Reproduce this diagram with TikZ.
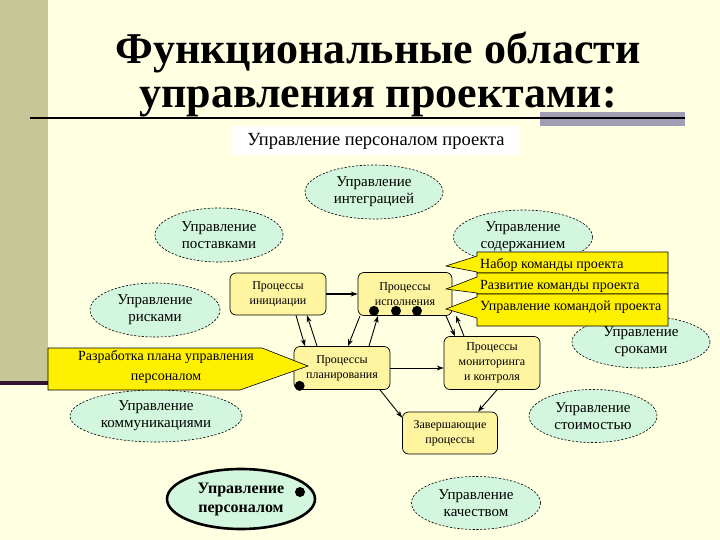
\documentclass[tikz,border=0pt]{standalone}
\usepackage{fontspec}
\setmainfont{Liberation Serif}
\usetikzlibrary{shapes.geometric,arrows.meta,calc}
\definecolor{bg}{RGB}{255,255,226}
\definecolor{olivebar}{RGB}{198,198,150}
\definecolor{darkp}{RGB}{50,20,50}
\definecolor{graybar}{RGB}{160,158,180}
\definecolor{mint}{RGB}{210,246,222}
\definecolor{procfill}{RGB}{255,244,160}
\definecolor{callfill}{RGB}{255,240,0}
\pgfdeclarelayer{lines}
\pgfsetlayers{lines,main}
\begin{document}
\begin{tikzpicture}[x=1pt,y=-1pt,
  ell/.style={ellipse, draw, dash pattern=on 2.2pt off 1.6pt, fill=mint, line width=0.6pt,
    inner sep=0pt, align=center, font=\fontsize{15}{17}\selectfont},
  proc/.style={draw, rounded corners=6pt, fill=procfill, align=center, line width=0.7pt,
    font=\fontsize{12}{15}\selectfont, minimum width=96pt, minimum height=42pt, inner sep=1pt},
  callout/.style={draw, fill=callfill, line width=0.6pt},
  calltext/.style={font=\fontsize{14}{17}\selectfont, inner sep=0pt},
  dotnode/.style={circle, fill=black, inner sep=0pt, minimum size=10pt},
  arr/.style={-{Stealth[length=7pt,width=5pt]}, line width=0.9pt},
  dline/.style={line width=0.8pt, dash pattern=on 3pt off 2.5pt},
  ddline/.style={line width=0.8pt, dash pattern=on 4pt off 2pt on 1pt off 2pt}
]
\useasboundingbox (0,0) rectangle (720,540);
\fill[bg] (0,0) rectangle (720,540);
\fill[olivebar] (0,0) rectangle (48,381);
\fill[darkp] (0,381) rectangle (48,385);
% title
\node[font=\fontsize{44}{46}\selectfont\bfseries, anchor=base, inner sep=0pt] (t1) at (378,64) {Функциональные области};
\node[font=\fontsize{44}{46}\selectfont\bfseries, anchor=base, inner sep=0pt] (t2) at (378,108) {управления проектами:};
\fill[graybar] (540,112) rectangle (685,126);
\draw[line width=2.5pt] (30,118) -- (685,118);
\node[fill=white, minimum width=288pt, minimum height=29pt, inner sep=0pt,
  font=\fontsize{18.5}{20}\selectfont] (sub) at (376,141) {Управление персоналом проекта};
% ellipses
\node[ell, minimum width=138pt, minimum height=54pt] (integ) at (374,192) {Управление\\интеграцией};
\node[ell, minimum width=128pt, minimum height=54pt] (post) at (219,235) {Управление\\поставками};
\node[ell, minimum width=139pt, minimum height=54pt] (sod) at (523,237) {Управление\\содержанием};
\node[ell, minimum width=130pt, minimum height=54pt] (risk) at (155,310) {Управление\\рисками};
\node[ell, minimum width=138pt, minimum height=52pt] (srok) at (641,342) {Управление\\сроками};
\node[ell, minimum width=172pt, minimum height=52pt] (komm) at (156,416) {Управление\\коммуникациями};
\node[ell, minimum width=128pt, minimum height=53pt] (stoim) at (593,416) {Управление\\стоимостью};
\node[ell, minimum width=129pt, minimum height=53pt] (kach) at (476,503) {Управление\\качеством};
\node[ellipse, draw, solid, line width=2.6pt, fill=mint, inner sep=0pt, align=center,
  minimum width=148pt, minimum height=60pt, font=\fontsize{16}{19}\selectfont\bfseries] (pers) at (241,499) {Управление\\персоналом};
% process boxes
\node[proc] (A) at (278,294) {Процессы\\инициации};
\node[proc, minimum width=94pt, minimum height=43pt] (B) at (405,294) {Процессы\\исполнения};
\node[proc, minimum height=43pt] (C) at (342,368) {Процессы\\планирования};
\node[proc, minimum height=53pt] (D) at (492,363) {Процессы\\мониторинга\\и контроля};
\node[proc, minimum width=95pt] (E) at (450,433) {Завершающие\\процессы};
% arrows
\draw[arr, line width=1.3pt] (A.east) -- (B.west);
\draw[arr] ([xshift=18pt]A.south) -- ([xshift=-37pt]C.north);
\draw[arr] ([xshift=-25pt]C.north) -- ([xshift=29pt]A.south);
\draw[arr] ([xshift=-45pt]B.south) -- ([xshift=6pt]C.north);
\draw[arr] ([xshift=27pt]C.north) -- ([xshift=-27pt]B.south);
\draw[arr] ([xshift=41pt]B.south) -- ([xshift=-37pt]D.north);
\draw[arr] ([xshift=-28pt]D.north) -- ([xshift=51pt]B.south);
\draw[arr] (C.east) -- (C.east -| D.west);
\draw[arr] ([xshift=38pt]C.south) -- ([yshift=-6pt]E.north west);
\draw[arr] ([xshift=5pt]D.south) -- ([xshift=28pt]E.north);
% callouts right
\draw[callout] (446,266) -- (477,256) -- (477,252) -- (668,252) -- (668,273) -- (477,273) -- (477,272) -- cycle;
\draw[callout] (446,289) -- (477,277) -- (477,273) -- (668,273) -- (668,294) -- (477,294) -- (477,293) -- cycle;
\draw[callout] (446,309) -- (477,297) -- (477,294) -- (668,294) -- (668,326) -- (477,326) -- (477,318) -- cycle;
\node[calltext, anchor=west] (c1) at (480,265) {Набор команды проекта};
\node[calltext, anchor=west] (c2) at (480,286) {Развитие команды проекта};
\node[calltext, anchor=west] (c3) at (480,307) {Управление командой проекта};
% callout left
\draw[callout] (48,348) -- (262,348) -- (308,366) -- (240,390) -- (48,390) -- cycle;
\node[calltext, align=center, font=\fontsize{14}{20}\selectfont] (cl) at (166,367) {Разработка плана управления\\персоналом};
% dots
\node[dotnode] (d1) at ([xshift=-31pt,yshift=5pt]B.south) {};
\node[dotnode] (d2) at ([xshift=-9pt,yshift=5pt]B.south) {};
\node[dotnode] (d3) at ([xshift=12pt,yshift=5pt]B.south) {};
\node[dotnode] (cd) at ([xshift=6pt,yshift=4pt]C.south west) {};
\node[dotnode] (pd) at ([xshift=59pt,yshift=7pt]pers.center) {};
\begin{pgfonlayer}{lines}
\draw[dline, shorten >=14pt] (d1.center) -- (pd.center);
\draw[dline, shorten >=16pt] (d2.center) -- (pd.center);
\draw[ddline, shorten >=18pt] (d3.center) -- (pd.center);
\draw[ddline, shorten >=14pt] (cd.center) -- (pd.center);
\end{pgfonlayer}
\end{tikzpicture}
\end{document}
